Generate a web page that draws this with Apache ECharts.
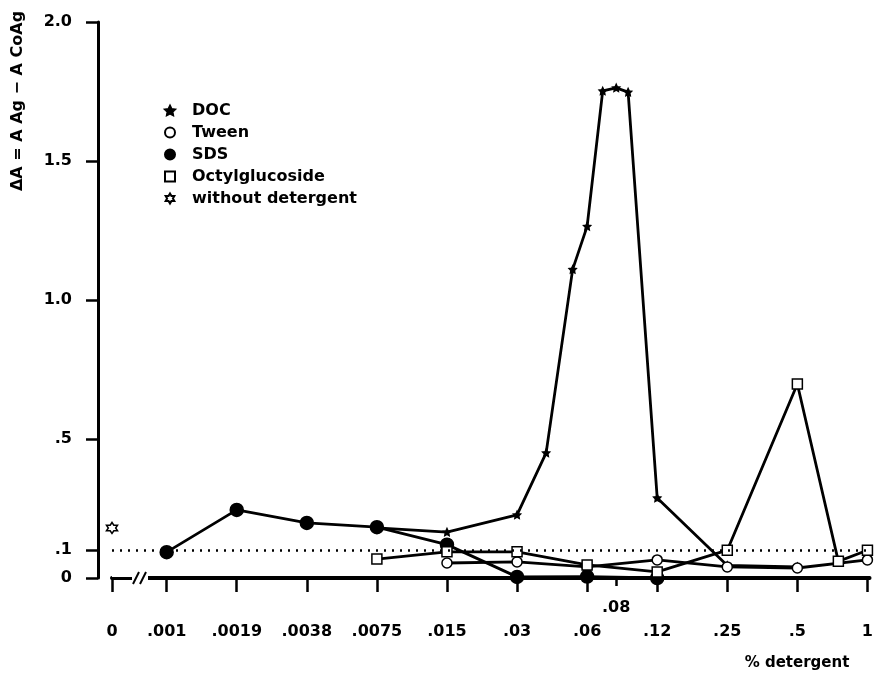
<!DOCTYPE html>
<html><head><meta charset="utf-8">
<script src="https://cdn.jsdelivr.net/npm/echarts@6/dist/echarts.min.js"></script>
<style>html,body{margin:0;padding:0;background:#fff}#c{width:876px;height:685px}</style>
</head><body><div id="c"></div>
<script>
// ---- tick definitions ----
const tickLabels = ['0', '.001', '.0019', '.0038', '.0075', '.015', '.03', '.06', '.12', '.25', '.5', '1'];
const tickConc   = [0, 0.001, 0.0019, 0.0038, 0.0075, 0.015, 0.03, 0.06, 0.12, 0.25, 0.5, 1];
const minorTickLabels = ['.08'];
const minorTickConc   = [0.08];
const yTickValues = [0, 0.1, 0.5, 1, 1.5, 2];
const yTickLabels = ['0', '.1', '.5', '1.0', '1.5', '2.0'];
const refLine = 0.1;

// ---- series data (concentration, ΔA) ----
const docConc = [0.0075, 0.015, 0.03, 0.04, 0.052, 0.06, 0.07, 0.08, 0.09, 0.12, 0.25, 0.5];
const docVal  = [0.18, 0.165, 0.227, 0.45, 1.11, 1.265, 1.752, 1.763, 1.748, 0.288, 0.045, 0.04];
const tweenConc = [0.015, 0.03, 0.06, 0.12, 0.25, 0.5, 1];
const tweenVal  = [0.054, 0.058, 0.04, 0.065, 0.04, 0.036, 0.065];
const sdsConc = [0.001, 0.0019, 0.0038, 0.0075, 0.015, 0.03, 0.06, 0.12];
const sdsVal  = [0.093, 0.245, 0.198, 0.183, 0.12, 0.004, 0.005, 0.0];
const octConc = [0.0075, 0.015, 0.03, 0.06, 0.12, 0.25, 0.5, 0.75, 1];
const octVal  = [0.068, 0.094, 0.094, 0.047, 0.022, 0.1, 0.698, 0.06, 0.1];
const woConc = [0];
const woVal  = [0.18];

// ---- position mapping along the (broken, log-like) axis ----
const zeroPos = 0.22;
function pos(c) {
  if (c === 0) return zeroPos;
  for (let i = 1; i < tickConc.length - 1; i++) {
    const a = tickConc[i], b = tickConc[i + 1];
    if (c >= a && c <= b) return i + Math.log(c / a) / Math.log(b / a);
  }
  return tickConc.length - 1;
}
const tickPos = tickConc.map(pos);
const minorPos = minorTickConc.map(pos);
const pair = (cs, vs) => cs.map((c, i) => [pos(c), vs[i]]);

const FONT = 'DejaVu Sans';
const LBL = 16;
const starPath = 'path://M0,-10 L2.9,-4 L9.5,-3.1 L4.8,1.5 L5.9,8.1 L0,5 L-5.9,8.1 L-4.8,1.5 L-9.5,-3.1 L-2.9,-4 Z';
const hexPath = 'path://M0,-10 L2.89,-5 L8.66,-5 L5.77,0 L8.66,5 L2.89,5 L0,10 L-2.89,5 L-8.66,5 L-5.77,0 L-8.66,-5 L-2.89,-5 Z';

const xMin = zeroPos, xMax = 11.03;
const lineStyle = { color: '#000', width: 2.8 };

function mk(name, data, symbol, size, fill, extra) {
  return Object.assign({
    name, type: 'line', data, symbol, symbolSize: size,
    showAllSymbol: true,
    lineStyle, itemStyle: { color: fill, borderColor: '#000', borderWidth: 1.5 },
    emphasis: { disabled: true }, z: 3
  }, extra || {});
}

const chart = echarts.init(document.getElementById('c'));
const option = {
  animation: false,
  backgroundColor: '#fff',
  grid: { left: 112, right: 5, top: 22, bottom: 107 },
  legend: {
    orient: 'vertical', left: 159, top: 97, itemWidth: 10, itemHeight: 10, itemGap: 5,
    textStyle: { fontFamily: FONT, fontWeight: 'bold', fontSize: 16, color: '#000', padding: [0, 0, 0, 12], lineHeight: 17 },
    data: [
      { name: 'DOC', icon: starPath },
      { name: 'Tween', icon: 'circle' },
      { name: 'SDS', icon: 'circle' },
      { name: 'Octylglucoside', icon: 'rect' },
      { name: 'without detergent', icon: hexPath }
    ]
  },
  xAxis: [{
    type: 'value', min: xMin, max: xMax,
    axisLine: { show: true, lineStyle: { color: '#000', width: 4 } },
    axisTick: { show: true, customValues: tickPos, length: 14, lineStyle: { color: '#000', width: 2.5 } },
    axisLabel: {
      customValues: tickPos, margin: 46,
      fontFamily: FONT, fontWeight: 'bold', fontSize: LBL, color: '#000',
      formatter: v => { const i = tickPos.findIndex(p => Math.abs(p - v) < 1e-6); return i >= 0 ? tickLabels[i] : ''; }
    },
    splitLine: { show: false }
  }, {
    type: 'value', min: xMin, max: xMax, position: 'bottom',
    axisLine: { show: false },
    axisTick: { show: true, customValues: minorPos, length: 8, lineStyle: { color: '#000', width: 2.5 } },
    axisLabel: {
      customValues: minorPos, margin: 22,
      fontFamily: FONT, fontWeight: 'bold', fontSize: LBL, color: '#000',
      formatter: v => { const i = minorPos.findIndex(p => Math.abs(p - v) < 1e-6); return i >= 0 ? minorTickLabels[i] : ''; }
    },
    splitLine: { show: false }
  }],
  yAxis: {
    type: 'value', min: 0, max: 2, offset: 14,
    axisLine: { show: true, lineStyle: { color: '#000', width: 3 } },
    axisTick: { show: true, customValues: yTickValues, length: 12, lineStyle: { color: '#000', width: 2.5 } },
    axisLabel: {
      customValues: yTickValues, margin: 26,
      fontFamily: FONT, fontWeight: 'bold', fontSize: LBL, color: '#000',
      formatter: v => { const i = yTickValues.findIndex(p => Math.abs(p - v) < 1e-6); return i >= 0 ? yTickLabels[i] : ''; }
    },
    splitLine: { show: false }
  },
  series: [
    mk('DOC', pair(docConc, docVal), starPath, 7, '#000'),
    mk('Tween', pair(tweenConc, tweenVal), 'circle', 10, '#fff'),
    mk('SDS', pair(sdsConc, sdsVal), 'circle', 13, '#000', {
      markLine: {
        silent: true, symbol: 'none', label: { show: false },
        lineStyle: { color: '#000', type: [2, 6], width: 2.5 },
        data: [{ yAxis: refLine }]
      }
    }),
    mk('Octylglucoside', pair(octConc, octVal), 'rect', 10, '#fff'),
    mk('without detergent', pair(woConc, woVal), hexPath, 11, '#fff', { lineStyle: { width: 0 } })
  ]
};
chart.setOption(option);

// decorations: axis break, axis titles
const p0 = chart.convertToPixel({ xAxisIndex: 0, yAxisIndex: 0 }, [zeroPos, 0]);
const ax = p0[0], ay = p0[1];
chart.setOption({
  graphic: [
    { type: 'rect', shape: { x: ax + 20, y: ay - 5, width: 16, height: 10 }, style: { fill: '#fff' }, z: 10 },
    { type: 'rect', shape: { x: ax, y: ay - 2, width: 22, height: 1 }, style: { fill: '#fff' }, z: 10 },
    { type: 'line', shape: { x1: ax + 21, y1: ay + 6, x2: ax + 27, y2: ay - 6 }, style: { stroke: '#000', lineWidth: 2 }, z: 11 },
    { type: 'line', shape: { x1: ax + 28, y1: ay + 6, x2: ax + 34, y2: ay - 6 }, style: { stroke: '#000', lineWidth: 2 }, z: 11 },
    {
      type: 'text', x: 18, y: 101, rotation: Math.PI / 2, z: 10,
      style: { text: 'ΔA = A Ag − A CoAg', fontFamily: FONT, fontWeight: 'bold', fontSize: 16, fill: '#000', align: 'center', verticalAlign: 'middle' }
    },
    {
      type: 'text', x: 797, y: 663, z: 10,
      style: { text: '% detergent', fontFamily: FONT, fontWeight: 'bold', fontSize: 15, fill: '#000', align: 'center', verticalAlign: 'middle' }
    }
  ]
});
</script>
</body></html>
